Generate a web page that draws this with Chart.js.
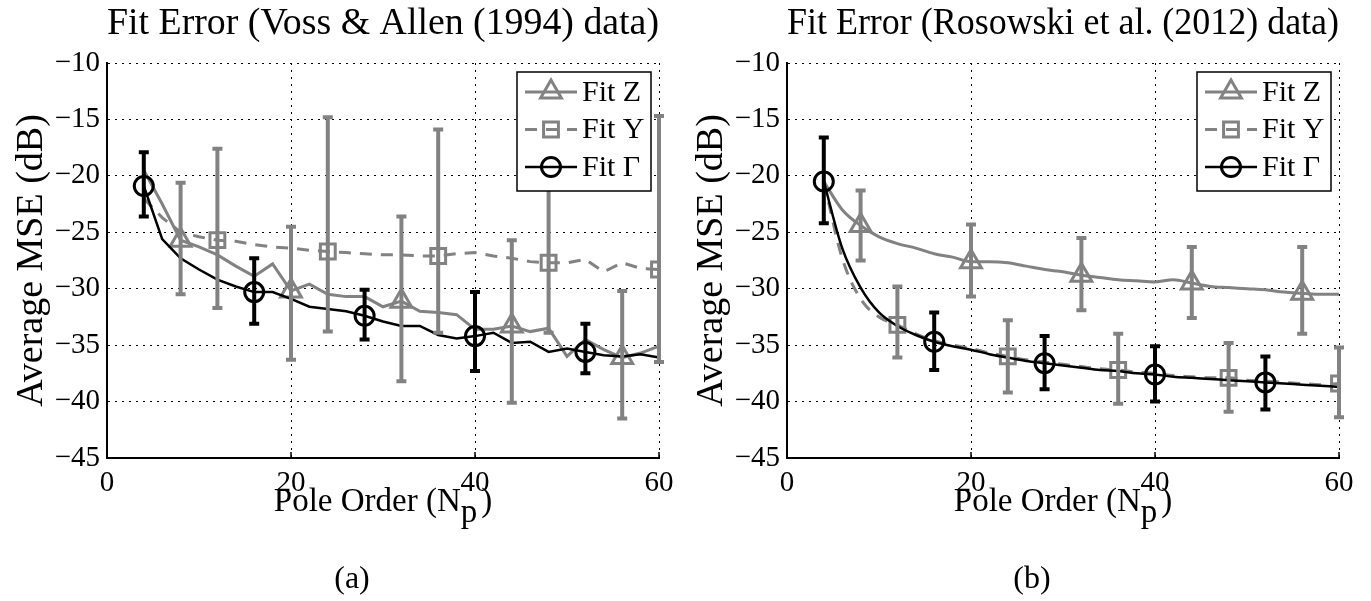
<!DOCTYPE html>
<html>
<head>
<meta charset="utf-8">
<script src="https://cdn.jsdelivr.net/npm/chart.js@4.4.1/dist/chart.umd.min.js"></script>
<style>
  html, body { margin: 0; padding: 0; background: #fff; overflow: hidden; }
  .panel { position: absolute; top: 0; width: 704px; height: 601px; }
</style>
</head>
<body>
<div class="panel" style="left:0"><canvas id="chartA" width="704" height="601"></canvas></div>
<div class="panel" style="left:680px"><canvas id="chartB" width="704" height="601"></canvas></div>
<script>
// pole orders (x) shared by every curve
const poles = [4, 6, 8, 10, 12, 14, 16, 18, 20, 22, 24, 26, 28, 30, 32, 34, 36, 38, 40, 42, 44, 46, 48, 50, 52, 54, 56, 58, 60];

// (a) Voss & Allen (1994) data, average MSE in dB
const vossZ = [-19.5, -22.5, -25.7, -26.3, -27.0, -28.0, -28.9, -27.8, -30.2, -29.6, -30.5, -30.7, -30.7, -31.6, -31.1, -32.0, -32.1, -32.3, -33.6, -33.6, -33.3, -33.8, -33.5, -36.0, -34.5, -35.4, -36.1, -35.7, -35.1];
const vossY = [-22.0, -23.7, -25.0, -25.4, -25.7, -25.8, -26.1, -26.3, -26.4, -26.6, -26.7, -26.8, -26.9, -27.0, -27.0, -27.1, -27.1, -26.9, -26.8, -27.1, -27.3, -27.6, -27.7, -27.7, -27.4, -28.5, -27.7, -28.2, -28.3];
const vossG = [-20.9, -25.6, -27.3, -28.3, -29.2, -29.8, -30.3, -30.3, -30.9, -31.6, -31.8, -32.0, -32.4, -32.9, -33.3, -33.3, -34.1, -34.4, -34.2, -33.9, -34.8, -34.7, -35.6, -35.3, -35.6, -35.9, -36.0, -35.8, -36.1];

// (b) Rosowski et al. (2012) data
const rosZ = [-20.5, -23.0, -24.4, -25.4, -26.0, -26.4, -26.9, -27.2, -27.6, -27.6, -27.7, -28.0, -28.3, -28.5, -28.8, -29.0, -29.2, -29.3, -29.4, -29.2, -29.5, -29.8, -29.9, -30.0, -30.1, -30.3, -30.4, -30.5, -30.5];
const rosY = [-20.5, -27.3, -30.9, -32.5, -33.2, -34.0, -34.6, -35.0, -35.3, -35.7, -36.0, -36.3, -36.5, -36.7, -36.9, -37.1, -37.2, -37.4, -37.5, -37.7, -37.8, -37.9, -37.9, -38.1, -38.2, -38.3, -38.4, -38.5, -38.4];
const rosG = [-20.5, -26.4, -29.9, -32.1, -33.3, -34.1, -34.7, -35.1, -35.4, -35.8, -36.1, -36.4, -36.6, -36.8, -37.0, -37.2, -37.3, -37.5, -37.6, -37.8, -37.9, -38.0, -38.1, -38.2, -38.3, -38.4, -38.5, -38.6, -38.7];

// pole orders that carry a marker + error bar
const markZ = [8, 20, 32, 44, 56];
const markY = [12, 24, 36, 48, 60];
const markG = [4, 16, 28, 40, 52];

// error bar ends (upper / lower) at the marker poles
const vossZHi = [-20.6, -24.5, -23.6, -25.7, -30.2];
const vossZLo = [-30.5, -36.3, -38.2, -40.1, -41.5];
const vossYHi = [-17.6, -14.8, -15.9, -15.5, -14.7];
const vossYLo = [-31.7, -33.8, -33.9, -33.9, -36.5];
const vossGHi = [-17.9, -27.3, -30.1, -30.3, -33.1];
const vossGLo = [-23.6, -33.1, -34.5, -37.3, -37.5];

const rosZHi = [-21.3, -24.3, -25.5, -26.3, -26.3];
const rosZLo = [-27.5, -30.7, -31.9, -32.6, -34.0];
const rosYHi = [-29.8, -32.8, -34.0, -34.8, -35.2];
const rosYLo = [-36.1, -39.2, -40.2, -40.9, -41.4];
const rosGHi = [-16.6, -32.1, -34.2, -35.1, -36.0];
const rosGLo = [-24.2, -37.2, -38.9, -40.0, -40.7];

const FONT = "'Liberation Serif', 'Times New Roman', serif";
const GRAY = '#828282';
Chart.defaults.font.family = FONT;
Chart.defaults.color = '#000';

const errorBars = {
  id: 'errorBars',
  afterDatasetsDraw(chart) {
    const ctx = chart.ctx, xs = chart.scales.x, ys = chart.scales.y;
    chart.data.datasets.forEach(ds => {
      const eb = ds.errorBars;
      if (!eb) return;
      ctx.save();
      ctx.strokeStyle = ds.borderColor;
      ctx.lineWidth = 4;
      ctx.setLineDash([]);
      eb.at.forEach((p, i) => {
        const x = xs.getPixelForValue(p);
        const y1 = ys.getPixelForValue(eb.hi[i]);
        const y2 = ys.getPixelForValue(eb.lo[i]);
        ctx.beginPath();
        ctx.moveTo(x, y1); ctx.lineTo(x, y2);
        ctx.moveTo(x - 5, y1); ctx.lineTo(x + 5, y1);
        ctx.moveTo(x - 5, y2); ctx.lineTo(x + 5, y2);
        ctx.stroke();
      });
      ctx.restore();
    });
  }
};

// boxed legend in the top right corner, the x title with its subscript, and the panel tag
const extras = {
  id: 'extras',
  afterDraw(chart) {
    const ctx = chart.ctx, a = chart.chartArea;
    ctx.save();

    // small inward ticks on the x axis
    ctx.strokeStyle = '#000';
    ctx.lineWidth = 1.5;
    chart.scales.x.ticks.forEach(t => {
      const x = chart.scales.x.getPixelForValue(t.value);
      ctx.beginPath(); ctx.moveTo(x, a.bottom); ctx.lineTo(x, a.bottom - 6); ctx.stroke();
    });

    const w = 134, h = 119;
    const L = a.right - 8 - w, T = a.top + 9;
    ctx.fillStyle = '#fff';
    ctx.fillRect(L, T, w, h);
    ctx.lineWidth = 1.5;
    ctx.strokeStyle = '#000';
    ctx.strokeRect(L, T, w, h);

    chart.data.datasets.forEach((ds, i) => {
      const y = T + 20 + i * 37.5;
      ctx.strokeStyle = ds.borderColor;
      ctx.lineWidth = ds.borderWidth;
      ctx.setLineDash(ds.borderDash || []);
      ctx.beginPath(); ctx.moveTo(L + 8, y); ctx.lineTo(L + 60, y); ctx.stroke();
      ctx.setLineDash([]);
      ctx.lineWidth = ds.pointBorderWidth;
      ctx.fillStyle = 'rgba(0,0,0,0)';
      Chart.helpers.drawPoint(ctx, { pointStyle: ds.pointStyle, radius: ds.markR, rotation: 0, borderWidth: ds.pointBorderWidth }, L + 34, y);
      ctx.fillStyle = '#000';
      ctx.font = `30px ${FONT}`;
      ctx.textBaseline = 'middle';
      ctx.textAlign = 'left';
      ctx.fillText(ds.label, L + 65, y + 1);
    });

    ctx.font = `33px ${FONT}`;
    ctx.fillStyle = '#000';
    ctx.textBaseline = 'alphabetic';
    ctx.textAlign = 'left';
    const main = 'Pole Order (N', sub = 'p', close = ')';
    const w1 = ctx.measureText(main).width, w2 = ctx.measureText(sub).width, w3 = ctx.measureText(close).width;
    let x = (a.left + a.right) / 2 - (w1 + w2 + 4 + w3) / 2;
    const base = a.bottom + 53;
    ctx.fillText(main, x, base); x += w1;
    ctx.fillText(sub, x, base + 11); x += w2 + 4;
    ctx.fillText(close, x, base);

    ctx.font = `32px ${FONT}`;
    ctx.textAlign = 'center';
    ctx.fillText(chart.options.tag, chart.width / 2, 588);
    ctx.restore();
  }
};

function series(label, vals, marks, hi, lo, color, width, dash, style, r, order, smooth) {
  return {
    label: label,
    data: poles.map((p, i) => ({ x: p, y: vals[i] })),
    borderColor: color,
    borderWidth: width,
    borderDash: dash,
    tension: 0,
    cubicInterpolationMode: smooth ? 'monotone' : 'default',
    pointStyle: style,
    markR: r,
    pointRadius: poles.map(p => marks.includes(p) ? r : 0),
    pointBorderColor: color,
    pointBackgroundColor: 'rgba(0,0,0,0)',
    pointBorderWidth: 3,
    order: order,
    errorBars: { at: marks, hi: hi, lo: lo }
  };
}

function makePanel(id, title, tag, z, y, g, errs, smooth) {
  return new Chart(document.getElementById(id), {
    type: 'line',
    data: {
      datasets: [
        series('Fit Z', z, markZ, errs[0], errs[1], GRAY, 3, [], 'triangle', 12, 3, smooth),
        series('Fit Y', y, markY, errs[2], errs[3], GRAY, 3, [12, 9], 'rect', 10.5, 2, smooth),
        series('Fit \u0393', g, markG, errs[4], errs[5], '#000', 2.5, [], 'circle', 9.5, 1, smooth)
      ]
    },
    options: {
      tag: tag,
      responsive: false,
      animation: false,
      devicePixelRatio: 1,
      layout: { padding: { left: 0, right: 45, top: 0, bottom: 0 } },
      plugins: {
        legend: { display: false },
        tooltip: { enabled: false },
        title: {
          display: true, text: title, fullSize: false, color: '#000',
          font: { family: FONT, size: 38, weight: 'normal' },
          padding: { top: 1.4, bottom: 16 }
        }
      },
      scales: {
        x: {
          type: 'linear', min: 0, max: 60,
          afterFit: s => { s.height = 143; },
          grid: { color: '#000', lineWidth: 1, drawTicks: false },
          border: { display: true, color: '#000', width: 2, dash: [2, 5] },
          ticks: { stepSize: 20, padding: 8, color: '#000', font: { family: FONT, size: 29 } }
        },
        y: {
          min: -45, max: -10,
          afterFit: s => { s.width = 107; },
          grid: { color: '#000', lineWidth: 1, drawTicks: false },
          border: { display: true, color: '#000', width: 2, dash: [2, 5] },
          ticks: {
            stepSize: 5, padding: 7, color: '#000', font: { family: FONT, size: 29 },
            callback: v => String(v).replace('-', '\u2212')
          },
          title: {
            display: true, text: 'Average MSE (dB)', color: '#000',
            font: { family: FONT, size: 38 },
            padding: { top: 9, bottom: 0 }
          }
        }
      }
    },
    plugins: [errorBars, extras]
  });
}

makePanel('chartA', 'Fit Error (Voss & Allen (1994) data)', '(a)', vossZ, vossY, vossG,
  [vossZHi, vossZLo, vossYHi, vossYLo, vossGHi, vossGLo], false);
makePanel('chartB', 'Fit Error (Rosowski et al. (2012) data)', '(b)', rosZ, rosY, rosG,
  [rosZHi, rosZLo, rosYHi, rosYLo, rosGHi, rosGLo], true);
</script>
</body>
</html>
